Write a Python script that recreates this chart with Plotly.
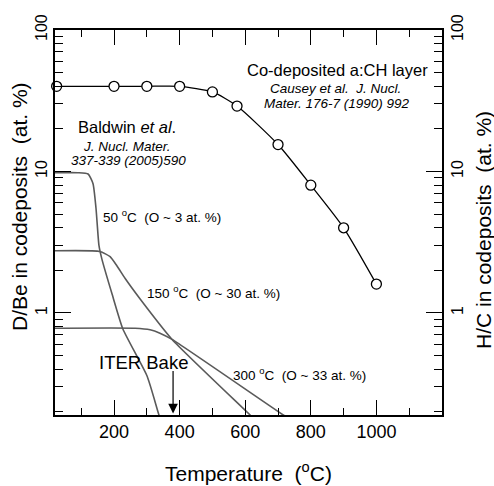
import numpy as np
import plotly.graph_objects as go

# Causey et al. co-deposited a:CH layer (H/C, at. %)
causey_T = [25, 200, 300, 400, 500, 575, 700, 800, 900, 1000]
causey_HC = [40, 40, 40, 40, 36.5, 29, 15.5, 8.0, 4.0, 1.6]

# Baldwin et al. D/Be (at. %)
b50_T = [20, 90, 121, 136, 145, 154, 163, 194, 227, 301, 337, 345]
b50_v = [9.8, 9.8, 9.6, 8.2, 5.5, 3.0, 2.4, 1.36, 0.77, 0.357, 0.19, 0.17]

b150_T = [20, 157, 188, 209, 234, 279, 377, 615, 630]
b150_v = [2.75, 2.72, 2.5, 2.15, 1.75, 1.26, 0.65, 0.19, 0.175]

b300_T = [20, 264, 310, 340, 377, 716, 730]
b300_v = [0.78, 0.78, 0.76, 0.72, 0.65, 0.19, 0.182]

x_ticks = [200, 400, 600, 800, 1000]
y_ticks = [1, 10, 100]
y_minor = [m * 10.0 ** e for e in (-1, 0, 1) for m in range(2, 10)]

FONT = "Arial, Liberation Sans, sans-serif"
GRAY = "#5a5a5a"

fig = go.Figure()
for T, v in [(b50_T, b50_v), (b150_T, b150_v), (b300_T, b300_v)]:
    fig.add_trace(go.Scatter(x=T, y=v, mode="lines", line=dict(color=GRAY, width=1.6, shape="spline", smoothing=0.5),
                             showlegend=False, hoverinfo="skip"))
fig.add_trace(go.Scatter(x=causey_T, y=causey_HC, yaxis="y2", mode="lines+markers",
                         line=dict(color="black", width=1.3, shape="spline", smoothing=0.6),
                         marker=dict(symbol="circle", size=10, color="white", line=dict(color="black", width=1.3)),
                         showlegend=False, cliponaxis=False))

yr = [np.log10(0.19), 2.0]
yax = dict(type="log", range=yr, tickvals=y_ticks, ticktext=["1", "10", "100"], ticks="inside", ticklen=16,
           tickwidth=1.3, tickcolor="black", showline=True, linecolor="black", linewidth=1.5, showgrid=False,
           zeroline=False, tickangle=-90, tickfont=dict(family=FONT, size=16, color="black"), automargin=False,
           minor=dict(tickvals=y_minor, ticks="inside", ticklen=8, tickwidth=1.3, tickcolor="black", showgrid=False))

fig.update_layout(
    width=494, height=486, margin=dict(l=55, r=52, t=30, b=71, autoexpand=False),
    paper_bgcolor="white", plot_bgcolor="white",
    xaxis=dict(range=[20, 1200], tickvals=x_ticks, ticks="inside", ticklen=15, tickwidth=1.3, tickcolor="black",
               showline=True, linecolor="black", linewidth=1.5, mirror="ticks", showgrid=False, zeroline=False,
               tickfont=dict(family=FONT, size=18, color="black"), automargin=False,
               minor=dict(dtick=100, tick0=0, ticks="inside", ticklen=7, tickwidth=1.3, tickcolor="black", showgrid=False)),
    yaxis=dict(**yax, side="left"),
    yaxis2=dict(**yax, side="right", overlaying="y"),
    font=dict(family=FONT, color="black"),
)

def ann(text, x, y, size, italic=False, **kw):
    fig.add_annotation(text=f"<i>{text}</i>" if italic else text, x=x, y=y, xref="x", yref="y",
                       showarrow=False, xanchor="center", yanchor="middle",
                       font=dict(family=FONT, size=size, color="black"), **kw)

ann("Co-deposited a:CH layer", 880, 1.716, 16.5)
ann("Causey et al.  J. Nucl.", 874, 1.589, 13.5, italic=True)
ann("Mater. 176-7 (1990) 992", 880, 1.482, 13.5, italic=True)
ann("Baldwin <i>et al</i>.", 240, 1.312, 16.5)
ann("J. Nucl. Mater.", 240, 1.177, 13.5, italic=True)
ann("337-339 (2005)590", 243, 1.078, 13.5, italic=True)
ann("50 <sup>o</sup>C  (O ~ 3 at. %)", 347, 0.688, 13.5)
ann("150 <sup>o</sup>C  (O ~ 30 at. %)", 502, 0.149, 13.5)
ann("300 <sup>o</sup>C  (O ~ 33 at. %)", 765, -0.433, 13.5)
ann("ITER Bake", 291, -0.348, 18.5)

# ITER bake arrow
fig.add_annotation(x=380, y=np.log10(0.195), xref="x", yref="y", ax=0, ay=-44, text="", showarrow=True,
                   arrowhead=2, arrowsize=1.6, arrowwidth=1.2, arrowcolor="black")

# axis titles (positions in pixels converted to paper fractions)
def title(text, px, py, angle=0):
    fig.add_annotation(text=text, x=(px - 55) / 387, y=(415 - py) / 385, xref="paper", yref="paper",
                       xanchor="center", yanchor="middle", showarrow=False, textangle=angle,
                       font=dict(family=FONT, size=21, color="black"))

title("D/Be in codeposits  (at. %)", 19, 207, -90)
title("H/C in codeposits  (at. %)", 484, 230, -90)
title("Temperature  (<sup>o</sup>C)", 248, 472)

fig.write_html("out.html", config={"displayModeBar": False},
               post_script="document.body.style.margin='0';document.body.style.padding='0';")
